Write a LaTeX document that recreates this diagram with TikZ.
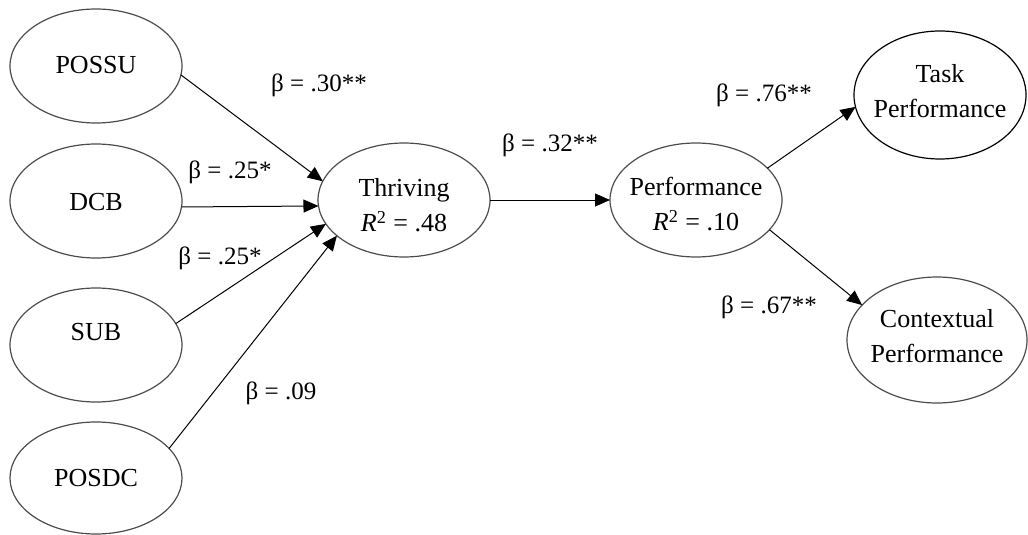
\documentclass[tikz,border=0pt]{standalone}
\usepackage{fontspec}
\setmainfont{Liberation Serif}
\usetikzlibrary{arrows.meta,shapes.geometric}
\begin{document}
\begin{tikzpicture}[x=0.5pt,y=-0.5pt,
  var/.style={draw=black!70, line width=0.6pt, ellipse, inner sep=0pt, outer sep=0pt,
    minimum width=86pt, minimum height=57pt},
  txt/.style={font=\fontsize{13}{17.5}\selectfont, align=center, inner sep=0pt},
  lbl/.style={font=\fontsize{12.5}{15}\selectfont, inner sep=0pt},
  path/.style={draw=black, line width=0.5pt, -{Triangle[length=7.5pt,width=6.5pt]}}]
\useasboundingbox (0,0) rectangle (1028,535);
\node[var, label={[txt, yshift=0.5pt]center:POSSU}] (possu) at (96,66) {};
\node[var, label={[txt, yshift=-0.5pt]center:DCB}] (dcb) at (96,201) {};
\node[var, label={[txt, yshift=6.5pt]center:SUB}] (sub) at (96,345) {};
\node[var, minimum height=56pt, label={[txt]center:POSDC}] (posdc) at (96,478) {};
\node[var, label={[txt, yshift=-2.75pt]center:{Thriving\\\textit{R}\textsuperscript{2} = .48}}] (thriving) at (404,200) {};
\node[var, label={[txt, yshift=-2.25pt]center:{Performance\\\textit{R}\textsuperscript{2} = .10}}] (perf) at (696,200) {};
\node[var, draw=black, minimum width=86pt, minimum height=64pt, label={[txt, yshift=2pt]center:{Task\\Performance}}] (task) at (940,95) {};
\node[var, minimum width=90pt, minimum height=63pt, label={[txt, yshift=1.75pt]center:{Contextual\\Performance}}] (ctx) at (937,340) {};
\draw[path] (possu.-6) -- (thriving.167.6);
\draw[path] (dcb.-4) -- (thriving.184.7);
\draw[path] (sub.15.9) -- (thriving.197.2);
\draw[path] (posdc.22.7) -- (thriving.208.2);
\draw[path] (thriving.east) -- (perf.west);
\draw[path] (perf.24.6) -- (task.188.7);
\draw[path] (perf.-22) -- (ctx.155.6);
\node[lbl] (b1) at (319,85) {β = .30**};
\node[lbl] (b2) at (230,172) {β = .25*};
\node[lbl] (b3) at (220,258) {β = .25*};
\node[lbl] (b4) at (281,393) {β = .09};
\node[lbl] (b5) at (550,145) {β = .32**};
\node[lbl] (b6) at (764,95) {β = .76**};
\node[lbl] (b7) at (769,307) {β = .67**};
\end{tikzpicture}
\end{document}
